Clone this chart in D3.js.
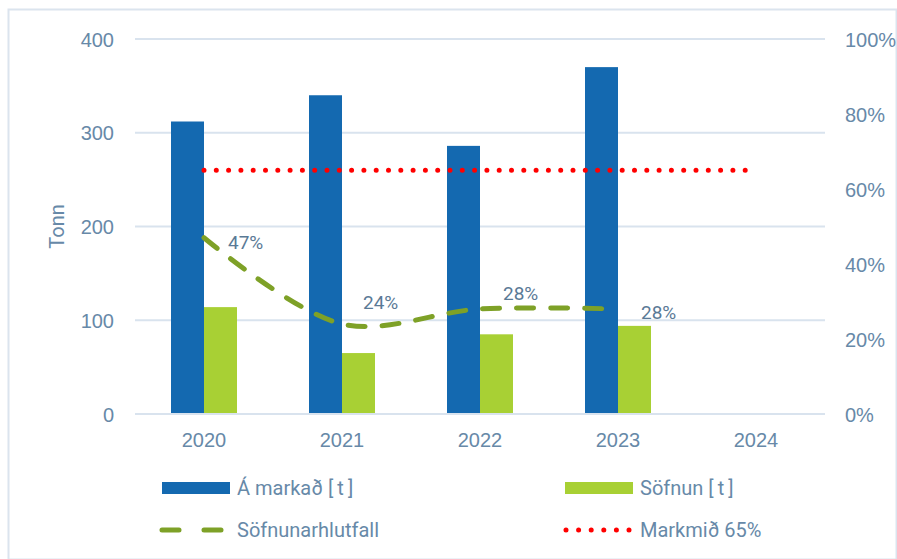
<!DOCTYPE html>
<html><head><meta charset="utf-8">
<script src="https://cdn.jsdelivr.net/npm/d3@7"></script>
<style>body{margin:0;background:#fff;}svg{display:block;font-family:Roboto,"Noto Sans",sans-serif;}</style>
</head><body><svg id="c" width="897" height="559"></svg>
<script>
const categories = ["2020","2021","2022","2023","2024"];
const markad = [312, 340, 286, 370, null];
const sofnun = [114, 65, 85, 94, null];
const hlutfall = [0.47, 0.24, 0.28, 0.28, null];
const markmid = [0.65, 0.65, 0.65, 0.65, 0.65];
const leftTicks = [0, 100, 200, 300, 400];
const rightTicks = [0, 0.2, 0.4, 0.6, 0.8, 1.0];

const svg = d3.select("#c");
const W = 897, H = 559;
const m = {left:135, right:72, top:39, bottom:145};
const textCol = "#6789a8", gridCol = "#d9e3ee";

svg.append("rect").attr("x",8.5).attr("y",9.5).attr("width",W-9).attr("height",H-9)
  .attr("fill","#fff").attr("stroke","#dbe4ee").attr("stroke-width",2);

const x = d3.scaleBand().domain(categories).range([m.left, W - m.right]);
const yL = d3.scaleLinear().domain([0,400]).range([H - m.bottom, m.top]);
const yR = d3.scaleLinear().domain([0,1]).range([H - m.bottom, m.top]);

// grid
svg.append("g").selectAll("line").data(leftTicks).join("line")
  .attr("x1", m.left).attr("x2", W - m.right)
  .attr("y1", d => yL(d)).attr("y2", d => yL(d))
  .attr("stroke", gridCol).attr("stroke-width", 2);

// left axis labels
const axL = d3.axisLeft(yL).tickValues(leftTicks).tickSize(0).tickPadding(21);
const gL = svg.append("g").attr("transform",`translate(${m.left},0)`).call(axL);
gL.select(".domain").remove();
gL.selectAll("text").attr("fill",textCol).style("font-size","20px").attr("dy","0.35em");

const axR = d3.axisRight(yR).tickValues(rightTicks).tickSize(0).tickPadding(20)
  .tickFormat(d => Math.round(d*100) + "%");
const gR = svg.append("g").attr("transform",`translate(${W - m.right},0)`).call(axR);
gR.select(".domain").remove();
gR.selectAll("text").attr("fill",textCol).style("font-size","20px").attr("dy","0.35em");

// x axis labels
const axB = d3.axisBottom(x).tickSize(0).tickPadding(19);
const gB = svg.append("g").attr("transform",`translate(0,${H - m.bottom})`).call(axB);
gB.select(".domain").remove();
gB.selectAll("text").attr("fill",textCol).style("font-size","20px");

svg.append("text").attr("transform",`translate(64,${yL(200)}) rotate(-90)`)
  .attr("text-anchor","middle").attr("fill",textCol).style("font-size","20px").text("Tonn");

// bars
const bw = 33;
const bx = d => x(d) + x.bandwidth()/2;
const data = categories.map((c,i)=>({c, a:markad[i], s:sofnun[i], p:hlutfall[i], t:markmid[i]}));
svg.append("g").selectAll("rect").data(data.filter(d=>d.a!=null)).join("rect")
  .attr("x", d => bx(d.c) - bw).attr("width", bw)
  .attr("y", d => yL(d.a)).attr("height", d => yL(0) - yL(d.a)).attr("fill","#1469b0");
svg.append("g").selectAll("rect").data(data.filter(d=>d.s!=null)).join("rect")
  .attr("x", d => bx(d.c)).attr("width", bw)
  .attr("y", d => yL(d.s)).attr("height", d => yL(0) - yL(d.s)).attr("fill","#a8d034");

// baseline
svg.append("line").attr("x1",m.left).attr("x2",W-m.right).attr("y1",yL(0)).attr("y2",yL(0))
  .attr("stroke",gridCol).attr("stroke-width",2);

// target dotted line
svg.append("path").datum(data)
  .attr("d", d3.line().x(d=>bx(d.c)).y(d=>yR(d.t)))
  .attr("fill","none").attr("stroke","#ff0000").attr("stroke-width",5)
  .attr("stroke-linecap","round").attr("stroke-dasharray","0 12.3");

// ratio line
const pd = data.filter(d=>d.p!=null);
svg.append("path").datum(pd)
  .attr("d", d3.line().x(d=>bx(d.c)).y(d=>yR(d.p)).curve(d3.curveCatmullRom.alpha(0.5)))
  .attr("fill","none").attr("stroke","#7ea127").attr("stroke-width",5)
  .attr("stroke-linecap","round").attr("stroke-dasharray","17 17");

// labels
const lblOff = [[24,5],[21,-22],[23,-16],[23,3]];
svg.append("g").selectAll("text").data(pd).join("text")
  .attr("x",(d,i)=>bx(d.c)+lblOff[i][0]).attr("y",(d,i)=>yR(d.p)+lblOff[i][1])
  .attr("dy","0.35em").attr("fill","#5a7a96").style("font-size","19px")
  .text(d=>Math.round(d.p*100)+"%");

// legend
const lg = svg.append("g");
const ly1 = 488, ly2 = 530;
lg.append("rect").attr("x",162).attr("y",ly1-6).attr("width",68).attr("height",12).attr("fill","#1469b0");
lg.append("rect").attr("x",565).attr("y",ly1-6).attr("width",68).attr("height",12).attr("fill","#a8d034");
lg.append("line").attr("x1",162).attr("x2",224).attr("y1",ly2).attr("y2",ly2)
  .attr("stroke","#7ea127").attr("stroke-width",5).attr("stroke-linecap","round").attr("stroke-dasharray","17 25");
lg.append("line").attr("x1",566).attr("x2",630).attr("y1",ly2).attr("y2",ly2)
  .attr("stroke","#ff0000").attr("stroke-width",5).attr("stroke-linecap","round").attr("stroke-dasharray","0 12.6");
const lt = [["Á markað [\u2009t\u2009]",237,ly1],["Söfnun [\u2009t\u2009]",640,ly1],["Söfnunarhlutfall",237,ly2],["Markmið 65%",640,ly2]];
lg.selectAll("text").data(lt).join("text").attr("x",d=>d[1]).attr("y",d=>d[2]).attr("dy","0.35em")
  .attr("fill",textCol).style("font-size","20px").text(d=>d[0]);
</script></body></html>
